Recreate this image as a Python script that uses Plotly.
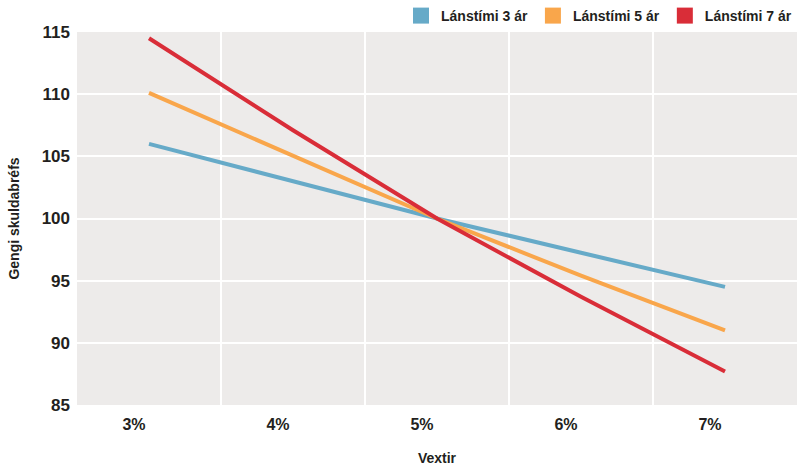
import plotly.graph_objects as go

rates = [3, 4, 5, 6, 7]
rate_labels = ["3%", "4%", "5%", "6%", "7%"]
series_names = ["Lánstími 3 ár", "Lánstími 5 ár", "Lánstími 7 ár"]
price_3y = [106.0, 103.0, 100.0, 97.25, 94.5]
price_5y = [110.1, 105.05, 100.0, 95.4, 91.0]
price_7y = [114.5, 107.1, 100.0, 93.7, 87.7]
y_ticks = [85, 90, 95, 100, 105, 110, 115]
colors = ["#66aac8", "#f9a64b", "#d92d38"]

FONT = "Liberation Sans Narrow, Liberation Sans, Arial, sans-serif"
FONT_W = "Liberation Sans, Arial, sans-serif"
TXT = "#231f20"

fig = go.Figure()
for name, vals, col in zip(series_names, [price_3y, price_5y, price_7y], colors):
    fig.add_trace(go.Scatter(x=rates, y=vals, mode="lines", name=name,
                             line=dict(color=col, width=4), showlegend=False,
                             hoverinfo="skip"))
    fig.add_trace(go.Scatter(x=[None], y=[None], mode="markers", name=name,
                             marker=dict(color=col, symbol="square", size=16),
                             showlegend=True))

mids = [(a + b) / 2 for a, b in zip(rates[:-1], rates[1:])]

fig.update_layout(
    width=797, height=469,
    margin=dict(l=77, r=0, t=30, b=64),
    paper_bgcolor="white",
    plot_bgcolor="#edebea",
    font=dict(family=FONT, color=TXT, size=16),
    legend=dict(orientation="h", x=1, xanchor="right", y=1.0, yanchor="bottom",
                bgcolor="rgba(0,0,0,0)", font=dict(size=14, family=FONT_W, color=TXT,
                                                    weight="bold"),
                itemwidth=30, tracegroupgap=0),
    xaxis=dict(range=[rates[0] - 0.5, rates[-1] + 0.5], tickvals=rates,
               ticktext=rate_labels, showgrid=False, zeroline=False,
               ticklabelshift=-15, ticklabelstandoff=8,
               tickfont=dict(size=16, family=FONT, color=TXT, weight="bold"),
               minor=dict(tickvals=mids, showgrid=True, gridcolor="white",
                          gridwidth=2, ticklen=0),
               title=dict(text="Vextir", standoff=21,
                          font=dict(size=14, family=FONT, color=TXT, weight="bold")),
               fixedrange=True),
    yaxis=dict(range=[y_ticks[0], y_ticks[-1]], tickvals=y_ticks,
               showgrid=True, gridcolor="white", gridwidth=2, zeroline=False,
               ticklabelstandoff=6,
               tickfont=dict(size=17, family=FONT, color=TXT, weight="bold"),
               title=dict(text="Gengi skuldabréfs", standoff=18,
                          font=dict(size=14, family=FONT, color=TXT, weight="bold")),
               fixedrange=True),
)

fig.write_html("out.html")
